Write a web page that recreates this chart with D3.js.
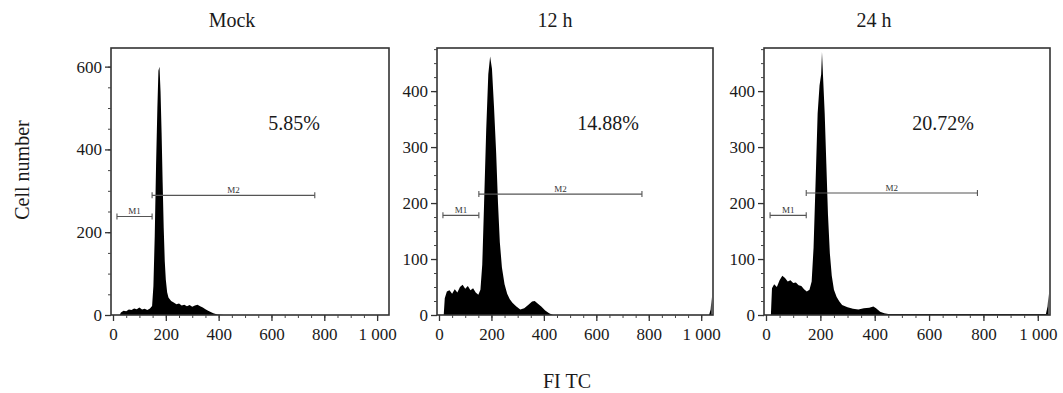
<!DOCTYPE html>
<html>
<head>
<meta charset="utf-8">
<script src="https://cdn.jsdelivr.net/npm/d3@7/dist/d3.min.js"></script>
<style>
  html, body { margin: 0; padding: 0; background: #fff; }
  svg { display: block; font-family: "Liberation Serif", "DejaVu Serif", serif; }
</style>
</head>
<body>
<svg id="chart" width="1063" height="393"></svg>
<script>
// histogram counts as [FITC channel, cell number]
const mockCounts = [
  [0, 0], [25, 0], [30, 6], [40, 10], [50, 9], [60, 13], [70, 12], [80, 16], [90, 14], [100, 18],
  [110, 13], [120, 15], [130, 12], [140, 16], [148, 22], [153, 70], [158, 190], [163, 360],
  [168, 500], [172, 590], [176, 600], [180, 540], [184, 440], [188, 320], [192, 210], [196, 130],
  [200, 85], [205, 55], [210, 42], [220, 34], [230, 30], [240, 26], [250, 28], [260, 23],
  [270, 25], [280, 21], [290, 24], [300, 20], [310, 23], [320, 25], [330, 21], [340, 18],
  [350, 14], [360, 10], [370, 7], [380, 4], [395, 1], [420, 0], [1040, 0]
];
const h12Counts = [
  [0, 0], [18, 0], [22, 30], [30, 42], [40, 44], [50, 38], [60, 46], [70, 40], [80, 50],
  [90, 54], [100, 47], [110, 52], [120, 44], [130, 48], [140, 40], [150, 36], [158, 45],
  [165, 90], [172, 200], [180, 330], [188, 430], [195, 462], [202, 440], [210, 370],
  [218, 290], [225, 200], [232, 130], [240, 85], [250, 55], [260, 38], [270, 28], [280, 22],
  [295, 15], [310, 10], [325, 12], [340, 18], [355, 24], [365, 25], [375, 21], [390, 15],
  [405, 8], [420, 3], [435, 0], [1030, 0], [1036, 10], [1040, 32]
];
const h24Counts = [
  [0, 0], [18, 0], [22, 48], [30, 55], [40, 50], [50, 62], [60, 70], [70, 66], [80, 60],
  [90, 62], [100, 57], [110, 58], [120, 53], [130, 52], [140, 46], [150, 42], [160, 45],
  [168, 60], [175, 120], [182, 230], [190, 360], [197, 410], [203, 430], [206, 470], [210, 425],
  [216, 360], [222, 270], [228, 180], [235, 110], [242, 70], [250, 45], [260, 32], [270, 24],
  [280, 18], [300, 14], [320, 11], [340, 10], [360, 12], [380, 13], [395, 15], [405, 12],
  [420, 6], [435, 3], [450, 2], [1030, 2], [1036, 15], [1040, 38]
];

const panelTitles = ['Mock', '12 h', '24 h'];
const panelCounts = [mockCounts, h12Counts, h24Counts];
const percentLabels = ['5.85%', '14.88%', '20.72%'];
const yMaxes = [645, 477, 477];
const yTicks = [[0, 200, 400, 600], [0, 100, 200, 300, 400], [0, 100, 200, 300, 400]];
const xTicks = [0, 200, 400, 600, 800, 1000];
// gate markers: [start, end, height]
const m1Gates = [[15, 148, 238], [15, 152, 178], [15, 148, 178]];
const m2Gates = [[148, 764, 289], [152, 774, 216], [148, 778, 218]];

const panels = [
  { left: 111, right: 389, titleX: 232, pctX: 294 },
  { left: 437, right: 713, titleX: 555, pctX: 608 },
  { left: 764, right: 1050, titleX: 874, pctX: 943 }
];
const plotTop = 48, plotBottom = 315;
const xMax = 1045;

const svg = d3.select('#chart');
const fmtX = d => d === 1000 ? '1 000' : String(d);
const ink = '#1a1a1a';

panels.forEach((p, i) => {
  const x = d3.scaleLinear().domain([0, xMax]).range([p.left + 2, p.right]);
  const y = d3.scaleLinear().domain([0, yMaxes[i]]).range([plotBottom, plotTop]);
  const g = svg.append('g');

  const area = d3.area()
    .x(d => x(d[0]))
    .y0(y(0))
    .y1(d => y(d[1]));
  g.append('path')
    .datum(panelCounts[i])
    .attr('fill', '#000')
    .attr('d', area);

  // frame
  g.append('rect')
    .attr('x', p.left).attr('y', plotTop)
    .attr('width', p.right - p.left).attr('height', plotBottom - plotTop)
    .attr('fill', 'none').attr('stroke', '#333').attr('stroke-width', 1.6);

  // axes with minor ticks
  const xMinor = d3.range(0, xMax, 50);
  g.append('g')
    .attr('transform', `translate(0,${plotBottom})`)
    .call(d3.axisBottom(x).tickValues(xMinor).tickSize(3).tickFormat(''))
    .call(a => a.select('.domain').remove())
    .call(a => a.selectAll('line').attr('stroke', '#444'));
  g.append('g')
    .attr('transform', `translate(0,${plotBottom})`)
    .call(d3.axisBottom(x).tickValues(xTicks).tickSize(6).tickPadding(7).tickFormat(fmtX))
    .call(a => a.select('.domain').remove())
    .call(a => a.selectAll('line').attr('stroke', '#333').attr('stroke-width', 1.3))
    .call(a => a.selectAll('text').attr('font-size', 17).attr('fill', ink)
      .attr('font-family', '"Liberation Serif", serif'));

  const yStep = yMaxes[i] > 500 ? 50 : 25;
  g.append('g')
    .attr('transform', `translate(${p.left},0)`)
    .call(d3.axisLeft(y).tickValues(d3.range(0, yMaxes[i], yStep)).tickSize(3).tickFormat(''))
    .call(a => a.select('.domain').remove())
    .call(a => a.selectAll('line').attr('stroke', '#444'));
  g.append('g')
    .attr('transform', `translate(${p.left},0)`)
    .call(d3.axisLeft(y).tickValues(yTicks[i]).tickSize(6).tickPadding(3))
    .call(a => a.select('.domain').remove())
    .call(a => a.selectAll('line').attr('stroke', '#333').attr('stroke-width', 1.3))
    .call(a => a.selectAll('text').attr('font-size', 17).attr('fill', ink)
      .attr('font-family', '"Liberation Serif", serif'));

  // gates
  [[m1Gates[i], 'M1'], [m2Gates[i], 'M2']].forEach(([gate, name]) => {
    const [a, b, h] = gate;
    const gy = y(h);
    g.append('line')
      .attr('x1', x(a)).attr('x2', x(b)).attr('y1', gy).attr('y2', gy)
      .attr('stroke', '#555').attr('stroke-width', 1.1);
    [a, b].forEach(v => {
      g.append('line')
        .attr('x1', x(v)).attr('x2', x(v)).attr('y1', gy - 3).attr('y2', gy + 3)
        .attr('stroke', '#555').attr('stroke-width', 1.1);
    });
    g.append('text')
      .attr('x', x((a + b) / 2)).attr('y', gy - 2)
      .attr('text-anchor', 'middle')
      .attr('font-size', 9).attr('fill', '#333')
      .text(name);
  });

  // titles and percentages
  svg.append('text')
    .attr('x', p.titleX).attr('y', 27)
    .attr('text-anchor', 'middle').attr('font-size', 20).attr('fill', ink)
    .text(panelTitles[i]);
  svg.append('text')
    .attr('x', p.pctX).attr('y', 130)
    .attr('text-anchor', 'middle').attr('font-size', 20).attr('fill', ink)
    .text(percentLabels[i]);
});

svg.append('text')
  .attr('transform', 'translate(29,170) rotate(-90)')
  .attr('text-anchor', 'middle').attr('font-size', 20).attr('fill', ink)
  .text('Cell number');
svg.append('text')
  .attr('x', 567).attr('y', 388)
  .attr('text-anchor', 'middle').attr('font-size', 20).attr('fill', ink)
  .text('FI TC');
</script>
</body>
</html>
